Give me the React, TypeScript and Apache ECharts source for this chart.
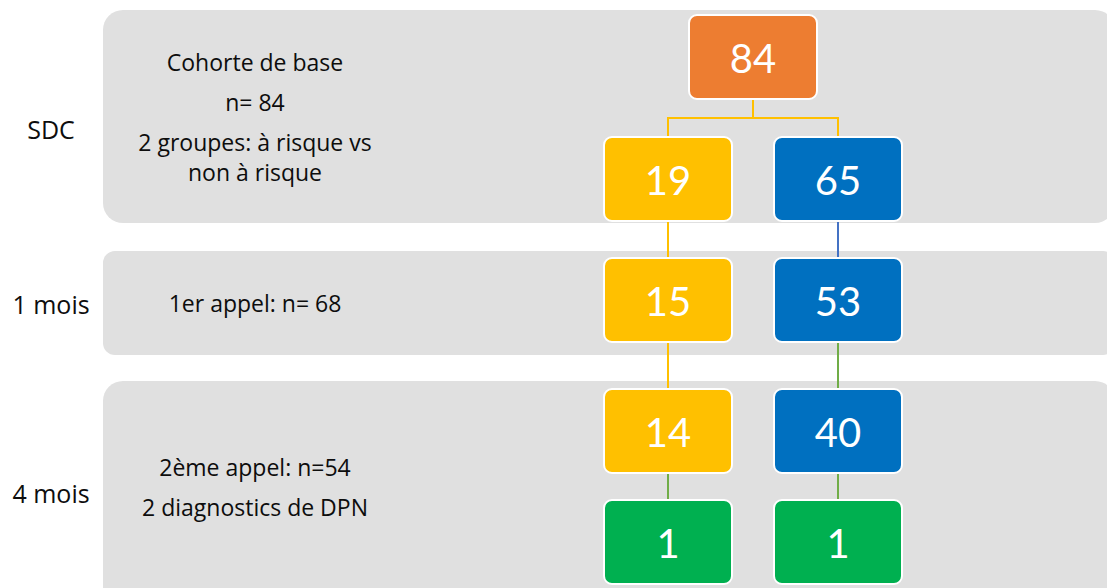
import React, { useEffect, useRef } from "react";
import * as echarts from "echarts";

// ---- data ----
const nodeValues = [84, 19, 65, 15, 53, 14, 40, 1, 1];
const nodeColumn = [0.5, 0, 1, 0, 1, 0, 1, 0, 1]; // 0 = à risque, 1 = non à risque
const nodeRow = [0, 1, 1, 2, 2, 3, 3, 4, 4];
const nodeGroup = ["total", "risk", "norisk", "risk", "norisk", "risk", "norisk", "dpn", "dpn"];
const edgeFrom = [0, 0, 1, 2, 3, 4, 5, 6];
const edgeTo = [1, 2, 3, 4, 5, 6, 7, 8];
const edgeKind = ["risk", "risk", "risk", "norisk", "risk", "dpn", "dpn", "dpn"];
const stageLabels = ["SDC", "1 mois", "4 mois"];
const stageTexts = [
  ["Cohorte de base", "n= 84", "2 groupes: à risque vs", "non à risque"],
  ["1er appel: n= 68"],
  ["2ème appel: n=54", "2 diagnostics de DPN"],
];

// ---- layout & style ----
const ROW_Y = [57, 179, 300, 431, 542];
const BOX_W = 128;
const BOX_H = 84;
const NODE_COLORS: Record<string, string> = {
  total: "#ED7D31",
  risk: "#FFC000",
  norisk: "#0070C0",
  dpn: "#00B050",
};
const EDGE_COLORS: Record<string, string> = {
  risk: "#FFC000",
  norisk: "#4472C4",
  dpn: "#70AD47",
};
const BANDS = [
  { y: 10, h: 213, r: 20 },
  { y: 251, h: 104, r: 12 },
  { y: 381, h: 240, r: 20 },
];
const STAGE_LABEL_Y = [129, 304, 493];
const STAGE_TEXT_Y = [[62, 102, 142, 172], [303], [467, 507]];
const TEXT_FONT = "'Open Sans', 'Noto Sans', sans-serif";
const NUM_FONT = "Lato, 'Open Sans', sans-serif";

export default function App() {
  const ref = useRef<HTMLDivElement>(null);
  useEffect(() => {
    if (!ref.current) return;
    const chart = echarts.init(ref.current, undefined, { renderer: "svg" });

    const graphics: any[] = [];
    BANDS.forEach((b) => {
      graphics.push({
        type: "rect",
        shape: { x: 103, y: b.y, width: 1012, height: b.h, r: b.r },
        style: { fill: "#E0E0E0" },
        z: 0,
      });
    });
    stageLabels.forEach((t, i) => {
      graphics.push({
        type: "text",
        x: 51,
        y: STAGE_LABEL_Y[i],
        style: {
          text: t,
          fill: "#0D0D0D",
          font: `25px ${TEXT_FONT}`,
          align: "center",
          verticalAlign: "middle",
        },
        z: 1,
      });
    });
    stageTexts.forEach((lines, i) => {
      lines.forEach((t, j) => {
        graphics.push({
          type: "text",
          x: 255,
          y: STAGE_TEXT_Y[i][j],
          style: {
            text: t,
            fill: "#0D0D0D",
            font: `23px ${TEXT_FONT}`,
            align: "center",
            verticalAlign: "middle",
          },
          z: 1,
        });
      });
    });

    const nodeData = nodeValues.map((v, i) => [nodeColumn[i], ROW_Y[nodeRow[i]], v, i]);
    const edgeData = edgeFrom.map((f, i) => [f, edgeTo[i], i]);

    chart.setOption({
      animation: false,
      grid: { left: 583, width: 340, top: 0, height: 588 },
      xAxis: { type: "value", min: -0.5, max: 1.5, show: false },
      yAxis: { type: "value", min: 0, max: 588, inverse: true, show: false },
      graphic: graphics,
      series: [
        {
          type: "custom",
          coordinateSystem: "cartesian2d",
          clip: false,
          z: 3,
          data: edgeData,
          renderItem: (params: any, api: any) => {
            const f = api.value(0);
            const t = api.value(1);
            const k = api.value(2);
            const p = api.coord([nodeColumn[f], ROW_Y[nodeRow[f]]]);
            const c = api.coord([nodeColumn[t], ROW_Y[nodeRow[t]]]);
            const y0 = p[1] + BOX_H / 2 + 1;
            const y1 = c[1] - BOX_H / 2 - 1;
            const my = (y0 + y1) / 2;
            const pts =
              Math.abs(p[0] - c[0]) < 0.5
                ? [[p[0], y0], [c[0], y1]]
                : [[p[0], y0], [p[0], my], [c[0], my], [c[0], y1]];
            return {
              type: "polyline",
              shape: { points: pts },
              style: { stroke: EDGE_COLORS[edgeKind[k]], lineWidth: 2, fill: "none" },
            };
          },
        },
        {
          type: "custom",
          coordinateSystem: "cartesian2d",
          clip: false,
          z: 4,
          data: nodeData,
          renderItem: (params: any, api: any) => {
            const pt = api.coord([api.value(0), api.value(1)]);
            const idx = api.value(3);
            return {
              type: "group",
              children: [
                {
                  type: "rect",
                  shape: { x: pt[0] - BOX_W / 2, y: pt[1] - BOX_H / 2, width: BOX_W, height: BOX_H, r: 8 },
                  style: { fill: NODE_COLORS[nodeGroup[idx]], stroke: "#FFFFFF", lineWidth: 2 },
                },
                {
                  type: "text",
                  x: pt[0],
                  y: pt[1] + 1,
                  style: {
                    text: String(api.value(2)),
                    fill: "#FFFFFF",
                    font: `40px ${NUM_FONT}`,
                    align: "center",
                    verticalAlign: "middle",
                  },
                },
              ],
            };
          },
        },
      ],
    });
    return () => chart.dispose();
  }, []);
  return <div ref={ref} style={{ width: 1107, height: 588, position: "absolute", left: 0, top: 0 }} />;
}
